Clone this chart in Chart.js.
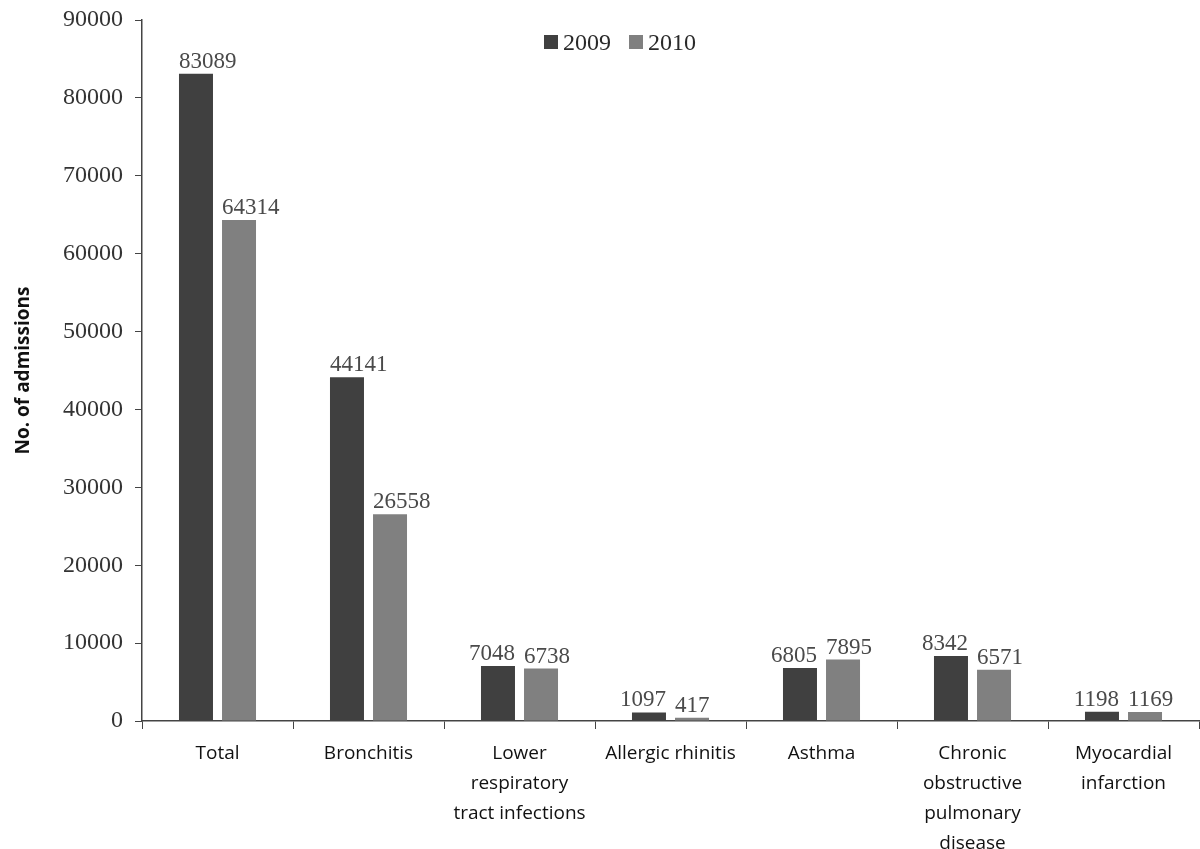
<!DOCTYPE html>
<html>
<head>
<meta charset="utf-8">
<script src="https://cdn.jsdelivr.net/npm/chart.js@4.4.1/dist/chart.umd.min.js"></script>
<style>
  html, body { margin: 0; padding: 0; background: #ffffff; }
  #wrap { width: 1200px; height: 849px; }
</style>
</head>
<body>
<div id="wrap"><canvas id="chart" width="1200" height="849"></canvas></div>
<script>
// Hospital admissions by diagnosis, 2009 vs 2010
const categories = [
  ['Total'],
  ['Bronchitis'],
  ['Lower', 'respiratory', 'tract infections'],
  ['Allergic rhinitis'],
  ['Asthma'],
  ['Chronic', 'obstructive', 'pulmonary', 'disease'],
  ['Myocardial', 'infarction']
];
const seriesNames = ['2009', '2010'];
const admissions2009 = [83089, 44141, 7048, 1097, 6805, 8342, 1198];
const admissions2010 = [64314, 26558, 6738, 417, 7895, 6571, 1169];
const yMin = 0;
const yMax = 90000;
const yStep = 10000;

const COLORS = ['#404040', '#808080'];
const NUM_FONT = '"Liberation Serif", serif';
const TEXT_FONT = '"Open Sans", sans-serif';

// Value labels above each bar
const valueLabels = {
  id: 'valueLabels',
  afterDatasetsDraw(chart) {
    const ctx = chart.ctx;
    ctx.save();
    ctx.font = '23px ' + NUM_FONT;
    ctx.fillStyle = '#4a4a4a';
    ctx.textBaseline = 'alphabetic';
    chart.data.datasets.forEach((ds, di) => {
      const meta = chart.getDatasetMeta(di);
      meta.data.forEach((bar, i) => {
        const txt = String(ds.data[i]);
        const half = bar.width / 2;
        let x, align;
        if (di === 0 && txt.length < 5) { x = bar.x + half; align = 'right'; }
        else { x = bar.x - half; align = 'left'; }
        ctx.textAlign = align;
        ctx.fillText(txt, x, bar.y - 6);
      });
    });
    ctx.restore();
  }
};

// Compact legend drawn inside the plot area near the top
const insideLegend = {
  id: 'insideLegend',
  afterDraw(chart) {
    const ctx = chart.ctx;
    const box = 14, gap = 5, spacing = 18;
    ctx.save();
    ctx.font = '24px ' + NUM_FONT;
    ctx.textBaseline = 'alphabetic';
    ctx.textAlign = 'left';
    const items = chart.data.datasets.map((ds, i) => ({
      label: ds.label, color: COLORS[i], w: box + gap + ctx.measureText(ds.label).width
    }));
    const total = items.reduce((s, it) => s + it.w, 0) + spacing * (items.length - 1);
    let x = 620 - total / 2;
    const baseY = 50;
    items.forEach(it => {
      ctx.fillStyle = it.color;
      ctx.fillRect(x, baseY - 15, box, box);
      ctx.fillStyle = '#2a2a2a';
      ctx.fillText(it.label, x + box + gap, baseY);
      x += it.w + spacing;
    });
    ctx.restore();
  }
};

new Chart(document.getElementById('chart'), {
  type: 'bar',
  data: {
    labels: categories,
    datasets: [
      { label: seriesNames[0], data: admissions2009, backgroundColor: COLORS[0] },
      { label: seriesNames[1], data: admissions2010, backgroundColor: COLORS[1] }
    ]
  },
  options: {
    responsive: false,
    animation: false,
    devicePixelRatio: 1,
    categoryPercentage: 0.57,
    barPercentage: 0.79,
    layout: { padding: { top: 20, right: 1, left: 0, bottom: 0 } },
    plugins: {
      legend: { display: false },
      tooltip: { enabled: false }
    },
    scales: {
      x: {
        offset: true,
        grid: { display: true, drawOnChartArea: false, drawTicks: true, tickLength: 8, color: '#444444', offset: true },
        border: { display: true, color: '#444444', width: 1.5 },
        ticks: {
          autoSkip: false, maxRotation: 0, minRotation: 0,
          color: '#111111', padding: 10,
          font: { family: TEXT_FONT, size: 19, lineHeight: 1.57 }
        },
        afterFit(scale) { scale.height = 128; }
      },
      y: {
        min: yMin, max: yMax,
        grid: { display: true, drawOnChartArea: false, drawTicks: true, tickLength: 7, color: '#444444' },
        border: { display: true, color: '#444444', width: 1.5 },
        ticks: {
          stepSize: yStep, padding: 12, color: '#333333',
          font: { family: NUM_FONT, size: 24 },
          callback: (v) => String(v)
        },
        title: {
          display: true, text: 'No. of admissions', color: '#111111',
          font: { family: TEXT_FONT, size: 19, weight: 'bold' },
          padding: { top: 12, bottom: 0 }
        },
        afterFit(scale) {
          scale.width = 142;
          scale.paddingTop = 0;
          scale.paddingBottom = 0;
        }
      }
    }
  },
  plugins: [valueLabels, insideLegend]
});
</script>
</body>
</html>
